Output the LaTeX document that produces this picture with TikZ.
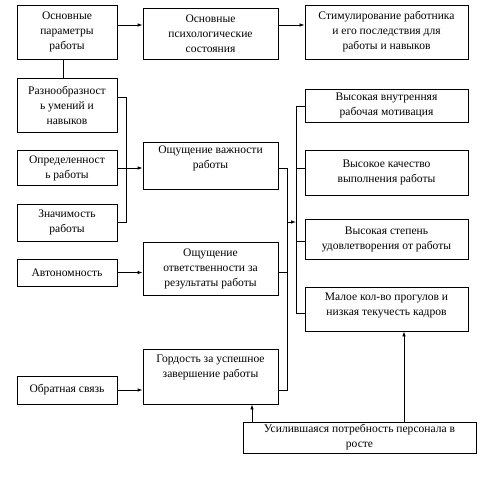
\documentclass[tikz,border=0pt]{standalone}
\usepackage{fontspec}
\setmainfont[Scale=1.1]{Liberation Serif}
\usetikzlibrary{arrows.meta}
\begin{document}
\begin{tikzpicture}[x=1pt,y=-1pt,
  box/.style={draw, line width=0.8pt, align=center, inner sep=1pt,
    font=\fontsize{10.5}{15}\selectfont},
  arr/.style={line width=0.8pt, -{Latex[length=5pt,width=3.5pt]}},
  ln/.style={line width=0.8pt}]
\useasboundingbox (0,0) rectangle (479,477);
% top row
\node[box, minimum width=100, minimum height=54] (b1) at (67,32) {Основные\\параметры\\работы};
\node[box, minimum width=135, minimum height=51] (b2) at (210.5,33.5) {Основные\\психологические\\состояния};
\node[box, minimum width=163, minimum height=54] (b3) at (386.5,32) {Стимулирование работника\\и его последствия для\\работы и навыков};
% left column
\node[box, minimum width=100, minimum height=54] (l1) at (67,105) {Разнообразност\\ь умений и\\навыков};
\node[box, minimum width=100, minimum height=35] (l2) at (67,168) {Определенност\\ь работы};
\node[box, minimum width=100, minimum height=37] (l3) at (67,222.5) {Значимость\\работы};
\node[box, minimum width=100, minimum height=27] (l4) at (67,272.5) {Автономность};
\node[box, minimum width=100, minimum height=28] (l5) at (67,390) {Обратная связь};
% middle column
\node[box, minimum width=135, minimum height=47, text depth=16pt] (m1) at (210.5,165.5) {Ощущение важности\\работы};
\node[box, minimum width=135, minimum height=53] (m2) at (210.5,268.5) {Ощущение\\ответственности за\\результаты работы};
\node[box, minimum width=135, minimum height=55, text depth=20pt] (m3) at (210.5,376.5) {Гордость за успешное\\завершение работы};
% right column
\node[box, minimum width=163, minimum height=33] (r1) at (386.5,105.5) {Высокая внутренняя\\рабочая мотивация};
\node[box, minimum width=163, minimum height=45] (r2) at (386.5,172.5) {Высокое качество\\выполнения работы};
\node[box, minimum width=163, minimum height=40] (r3) at (386.5,239.5) {Высокая степень\\удовлетворения от работы};
\node[box, minimum width=163, minimum height=44, text depth=10pt] (r4) at (386.5,309) {Малое кол-во прогулов и\\низкая текучесть кадров};
% bottom
\node[box, minimum width=233, minimum height=31] (bt) at (359.5,437.5) {Усилившаяся потребность персонала в\\росте};
% helper coordinates
\coordinate (ya) at (0,25);
\coordinate (xa) at (63,0);
\coordinate (xb) at (126,0);
\coordinate (yb) at (0,97);
\coordinate (xc) at (287,0);
\coordinate (xd) at (296,0);
\coordinate (yc) at (0,222);
\coordinate (y1) at (0,106);
\coordinate (y2) at (0,168);
\coordinate (y3) at (0,241);
\coordinate (y4) at (0,313);
\coordinate (xe) at (252,0);
\coordinate (xf) at (404,0);
% connectors
\draw[arr] (b1.east |- ya) -- (b2.west |- ya);
\draw[arr] (b2.east |- ya) -- (b3.west |- ya);
\draw[ln] (xa |- b1.south) -- (xa |- l1.north);
\draw[ln] (l1.east |- yb) -| (xb |- l3.east) -- (l3.east);
\draw[arr] (l2.east) -- (m1.west |- l2.east);
\draw[arr] (l4.east) -- (m2.west |- l4.east);
\draw[arr] (l5.east) -- (m3.west |- l5.east);
\draw[ln] (m1.east |- l2.east) -| (xc |- l5.east) -- (m3.east |- l5.east);
\draw[ln] (m2.east |- l4.east) -- (xc |- l4.east);
\draw[arr] (xc |- yc) -- (xd |- yc);
\draw[ln] (r1.west |- y1) -| (xd |- y4) -- (r4.west |- y4);
\draw[ln] (xd |- y2) -- (r2.west |- y2);
\draw[ln] (xd |- y3) -- (r3.west |- y3);
\draw[arr] (xe |- bt.north) -- (xe |- m3.south);
\draw[arr] (xf |- bt.north) -- (xf |- r4.south);
\end{tikzpicture}
\end{document}
